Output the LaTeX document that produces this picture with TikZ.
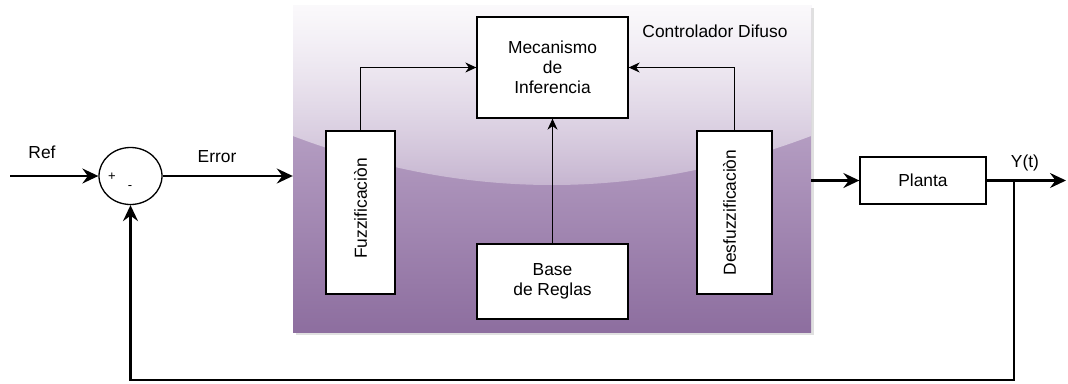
\documentclass[tikz,border=0pt]{standalone}
\usepackage{fontspec}
\setmainfont{Liberation Sans}
\usetikzlibrary{arrows.meta,shapes.geometric,shadows,fadings}
\definecolor{ctrltop}{HTML}{CDBBD8}
\definecolor{ctrlbot}{HTML}{8D6E9F}
% white glass highlight, strong at the top and weaker towards its curved edge
\tikzfading[name=glassfade, top color=transparent!8, bottom color=transparent!72]
\begin{document}
\begin{tikzpicture}[x=1pt,y=-1pt,
  every node/.style={font=\fontsize{17.4}{20}\selectfont},
  block/.style={draw, line width=1.3pt, fill=white, inner sep=0pt, align=center},
  sig/.style={line width=2.2pt, -{Stealth[length=16pt,width=15pt,inset=5.5pt]}},
  inner/.style={line width=1.1pt, -{Stealth[length=11pt,width=10pt,inset=3.5pt]}},
  sign/.style={font=\fontsize{13}{15}\selectfont, inner sep=0pt},
  ctrlbox/.style={minimum width=518pt, minimum height=327pt, inner sep=0pt,
    top color=ctrltop, bottom color=ctrlbot, draw=none,
    drop shadow={shadow xshift=3pt, shadow yshift=-3pt, fill=gray!45, opacity=0.55}}]
\useasboundingbox (0,0) rectangle (1068,383);

% fuzzy controller container with its glass highlight
\node[ctrlbox] (ctrl) at (552,168.5) {};
\fill[white, path fading=glassfade]
  (ctrl.north west) -- (ctrl.north east) -- (811,136)
  .. controls (638.3,201.3) and (465.7,201.3) .. (293,136) -- cycle;
\node (ctrllabel) at (715,31) {Controlador Difuso};

% controller internals
\node[block, minimum width=151pt, minimum height=101pt] (mec) at (552.5,67.5)
  {Mecanismo\\de\\Inferencia};
\node[block, minimum width=151pt, minimum height=75pt] (base) at (552.5,281.5)
  {Base\\de Reglas};
\node[block, minimum width=69pt, minimum height=163pt] (fuzz) at (360.5,212.5) {};
\node[rotate=90] (fuzztext) at ([yshift=4pt]fuzz.center) {Fuzzificaciòn};
\node[block, minimum width=75pt, minimum height=163pt] (defuzz) at (734.5,212.5) {};
\node[rotate=90] (defuzztext) at ([xshift=-5pt]defuzz.center) {Desfuzzificaciòn};

\draw[inner] (fuzz.north) |- (mec.west);
\draw[inner] (defuzz.north) |- (mec.east);
\draw[inner] (base.north) -- (mec.south);

% summing junction and plant
\node[ellipse, draw, line width=1.3pt, fill=white, minimum width=63pt,
  minimum height=57pt, inner sep=0pt] (sum) at (130.5,176) {};
\node[sign] (plus) at (112,177) {+};
\node[sign] (minus) at (130,188) {-};
\node[block, minimum width=126pt, minimum height=47pt] (planta) at (923,180.5) {Planta};

\coordinate (refin) at (10,176);
\coordinate (yout) at (1066,180.5);
\coordinate (branch) at (1014,180.5);
\coordinate (fbcorner) at (1014,380);

\node (reflabel) at (42,152) {Ref};
\node (errlabel) at (217,157) {Error};
\node (ylabel) at (1025,163) {Y(t)};

% signal paths
\draw[sig] (refin) -- (sum.west);
\draw[sig] (sum.east) -- (sum.east -| ctrl.west);
\draw[sig] (planta.west -| ctrl.east) -- (planta.west);
\draw[sig] (planta.east) -- (yout);
\draw[sig] (branch) -- (fbcorner) -| (sum.south);
\end{tikzpicture}
\end{document}
